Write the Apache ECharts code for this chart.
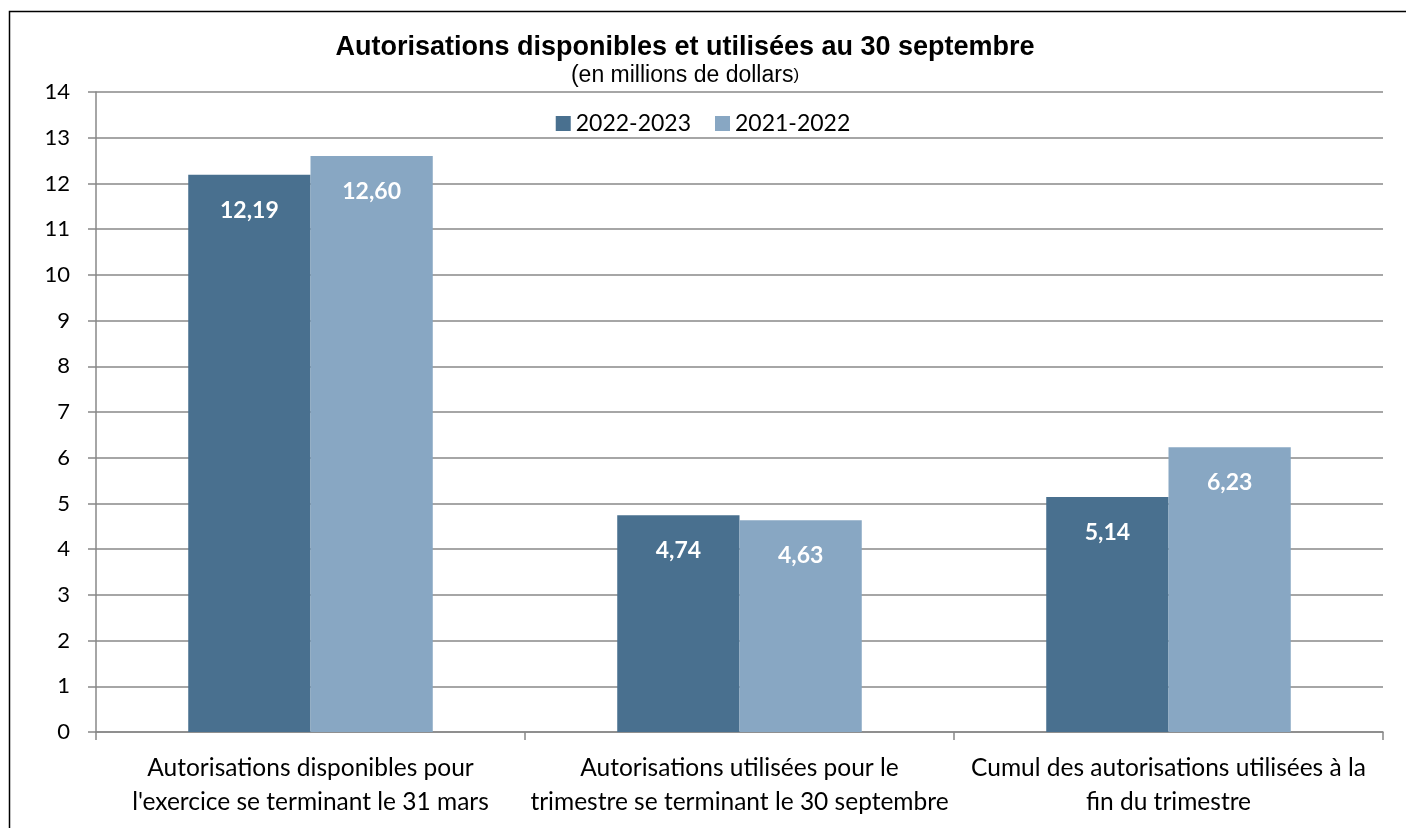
<!DOCTYPE html>
<html><head><meta charset="utf-8">
<script src="https://cdn.jsdelivr.net/npm/echarts@6/dist/echarts.min.js"></script>
<style>html,body{margin:0;padding:0;background:#fff}#c{width:1406px;height:828px}</style>
</head><body><div id="c"></div>
<script>
const categories = [
  "Autorisations disponibles pour\nl'exercice se terminant le 31 mars",
  "Autorisations utilisées pour le\ntrimestre se terminant le 30 septembre",
  "Cumul des autorisations utilisées à la\nfin du trimestre"
];
const seriesNames = ["2022-2023", "2021-2022"];
const values2022_2023 = [12.19, 4.74, 5.14];
const values2021_2022 = [12.60, 4.63, 6.23];
const colors = ["#49708f", "#88a7c3"];
const font = "Lato, 'Noto Sans', sans-serif";
const arial = "Arial, 'Liberation Sans', sans-serif";

const chart = echarts.init(document.getElementById('c'));
const lbl = {
  show: true, position: 'insideTop', distance: 24, color: '#fff',
  fontWeight: 'bold', fontSize: 23, fontFamily: font,
  formatter: p => p.value.toFixed(2).replace('.', ',')
};
chart.setOption({
  animation: false,
  graphic: [{type: 'rect', shape: {x: 9.5, y: 11.5, width: 1420, height: 840}, style: {fill: 'none', stroke: '#000', lineWidth: 1.5}, silent: true}],
  title: {
    text: 'Autorisations disponibles et utilisées au 30 septembre',
    subtext: '(en millions de dollars{s|)}',
    left: 680, textAlign: 'center', top: 29, itemGap: 3,
    textStyle: {fontFamily: arial, fontWeight: 'bold', fontSize: 27, color: '#000'},
    subtextStyle: {fontFamily: arial, fontSize: 23, color: '#000', rich: {s: {fontSize: 17, fontFamily: arial, color: '#000'}}}
  },
  legend: {
    data: seriesNames, top: 107, left: 'center', itemWidth: 15, itemHeight: 15, itemGap: 24,
    icon: 'rect', textStyle: {fontFamily: font, fontSize: 23, color: '#000'}
  },
  grid: {left: 96, right: 23, top: 92, bottom: 96, containLabel: false},
  xAxis: {
    type: 'category', data: categories,
    axisLine: {lineStyle: {color: '#888', width: 1.5}},
    axisTick: {show: true, length: 8, lineStyle: {color: '#888', width: 1.5}},
    axisLabel: {fontFamily: font, fontSize: 24.5, color: '#000', lineHeight: 34, margin: 19, interval: 0}
  },
  yAxis: {
    type: 'value', min: 0, max: 14, interval: 1,
    axisLine: {show: true, lineStyle: {color: '#888', width: 1.5}},
    axisTick: {show: true, length: 8, lineStyle: {color: '#888', width: 1.5}},
    axisLabel: {fontFamily: font, fontSize: 22, color: '#000', margin: 26},
    splitLine: {lineStyle: {color: '#888', width: 1.5}}
  },
  series: [
    {name: seriesNames[0], type: 'bar', data: values2022_2023, barWidth: '28.5%', barGap: '0%', itemStyle: {color: colors[0]}, label: lbl},
    {name: seriesNames[1], type: 'bar', data: values2021_2022, barWidth: '28.5%', barGap: '0%', itemStyle: {color: colors[1]}, label: lbl}
  ]
});
</script></body></html>
